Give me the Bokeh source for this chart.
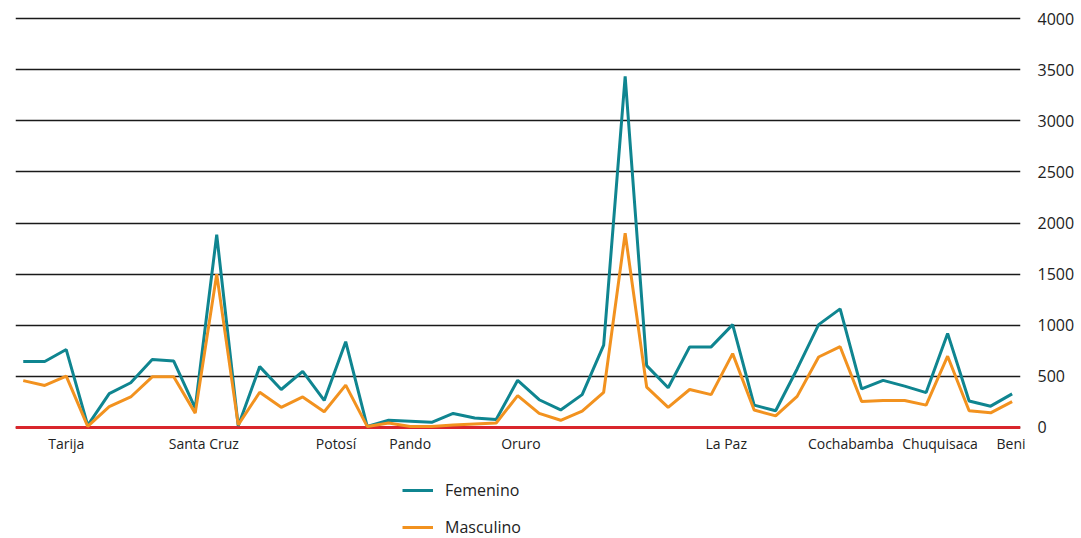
from bokeh.plotting import figure
from bokeh.layouts import column
from bokeh.models import Range1d, FixedTicker, Span, Legend, LegendItem
from bokeh.embed import file_html
from bokeh.resources import INLINE

# ---- data ----
femenino = [645, 645, 762, 20, 331, 437, 665, 649, 190, 1885,
            15, 595, 371, 549, 264, 839, 10, 70, 60, 50,
            137, 93, 77, 461, 271, 171, 321, 805, 3435, 605,
            388, 788, 788, 1006, 218, 163, 572, 1006, 1160, 378,
            460, 404, 341, 920, 258, 208, 328]
masculino = [458, 411, 502, 10, 204, 298, 495, 495, 140, 1500,
             25, 344, 197, 298, 154, 414, 10, 43, 10, 10,
             23, 33, 43, 311, 137, 70, 160, 344, 1900, 395,
             197, 371, 321, 722, 170, 113, 304, 689, 790, 253,
             263, 263, 218, 697, 163, 143, 253]
x_index = list(range(len(femenino)))

region_names = ["Tarija", "Santa Cruz", "Potosí", "Pando", "Oruro",
                "La Paz", "Cochabamba", "Chuquisaca", "Beni"]
region_ticks = [2, 8.4, 14.55, 18, 23.15, 32.7, 38.5, 42.65, 45.95]
y_ticks = [0, 500, 1000, 1500, 2000, 2500, 3000, 3500, 4000]
series_names = ["Femenino", "Masculino"]

TEAL = "#0f8590"
ORANGE = "#f2921f"
RED = "#d9262c"
TXT = "#222222"
FONT = "Open Sans"

p = figure(width=1081, height=460,
           x_range=Range1d(-0.36, 46.39), y_range=Range1d(-30, 4030),
           y_axis_location="right",
           output_backend="svg", toolbar_location=None,
           min_border_left=15, min_border_top=15,
           min_border_bottom=30, min_border_right=61)
p.outline_line_color = None
p.background_fill_color = "white"
p.border_fill_color = "white"

# grid
p.xgrid.visible = False
p.ygrid.ticker = FixedTicker(ticks=y_ticks)
p.ygrid.grid_line_color = "#1a1a1a"
p.ygrid.grid_line_width = 1.3

# baseline
base = Span(location=0, dimension="width", line_color=RED, line_width=3)
base.level = "underlay"
p.add_layout(base)

r_f = p.line(x_index, femenino, line_color=TEAL, line_width=3)
r_m = p.line(x_index, masculino, line_color=ORANGE, line_width=3)

# axes
p.yaxis.ticker = FixedTicker(ticks=y_ticks)
p.yaxis.axis_line_color = None
p.yaxis.major_tick_line_color = None
p.yaxis.minor_tick_line_color = None
p.yaxis.major_tick_out = 0
p.yaxis.minor_tick_out = 0
p.yaxis.major_label_standoff = 17
p.yaxis.major_label_text_font = FONT
p.yaxis.major_label_text_font_size = "16px"
p.yaxis.major_label_text_color = TXT

p.xaxis.ticker = FixedTicker(ticks=region_ticks)
p.xaxis.major_label_overrides = {t: n for t, n in zip(region_ticks, region_names)}
p.xaxis.axis_line_color = None
p.xaxis.major_tick_line_color = None
p.xaxis.minor_tick_line_color = None
p.xaxis.major_tick_out = 0
p.xaxis.minor_tick_out = 0
p.xaxis.major_label_standoff = 3
p.xaxis.major_label_text_font = FONT
p.xaxis.major_label_text_font_size = "14px"
p.xaxis.major_label_text_color = TXT

# ---- legend strip below the chart ----
lg = figure(width=1081, height=78, x_range=Range1d(0, 1), y_range=Range1d(0, 1),
            output_backend="svg", toolbar_location=None,
            min_border_left=0, min_border_right=0, min_border_top=0, min_border_bottom=0)
lg.axis.visible = False
lg.grid.visible = False
lg.outline_line_color = None
lg.background_fill_color = "white"
lg.border_fill_color = "white"
# legend proxies (single point -> no visible segment in this strip)
lf = lg.line(x=x_index[:1], y=femenino[:1], line_color=TEAL, line_width=3)
lm = lg.line(x=x_index[:1], y=masculino[:1], line_color=ORANGE, line_width=3)

legend = Legend(items=[LegendItem(label=series_names[0], renderers=[lf]),
                       LegendItem(label=series_names[1], renderers=[lm])],
                location=(387, 0), orientation="vertical",
                glyph_width=31, glyph_height=12, label_height=12,
                spacing=15, padding=0, margin=0, label_standoff=12,
                border_line_color=None, background_fill_alpha=0,
                label_text_font=FONT, label_text_font_size="16px",
                label_text_color=TXT)
lg.add_layout(legend)

layout = column(p, lg, spacing=0)
open("out.html", "w").write(file_html(layout, INLINE))
